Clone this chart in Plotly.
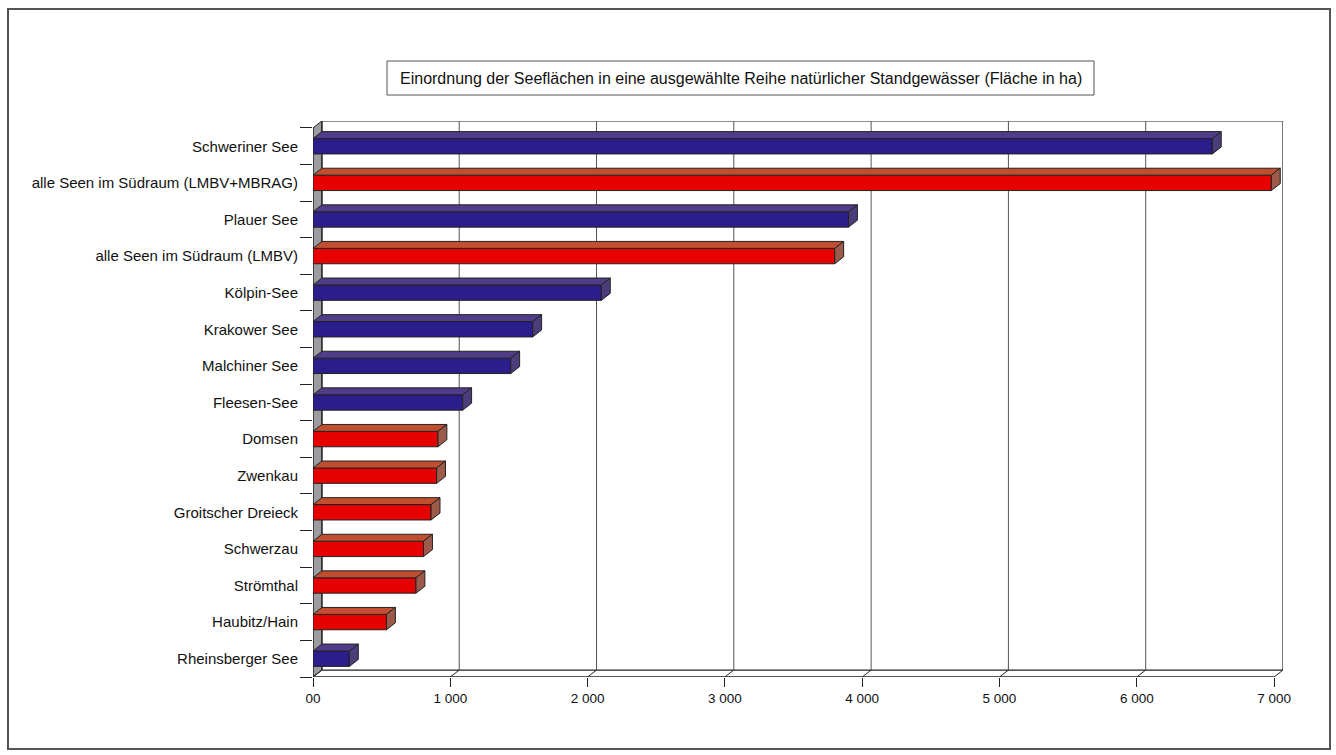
import plotly.graph_objects as go

# ---------------- data ----------------
lakes = [
    "Schweriner See",
    "alle Seen im Südraum (LMBV+MBRAG)",
    "Plauer See",
    "alle Seen im Südraum (LMBV)",
    "Kölpin-See",
    "Krakower See",
    "Malchiner See",
    "Fleesen-See",
    "Domsen",
    "Zwenkau",
    "Groitscher Dreieck",
    "Schwerzau",
    "Strömthal",
    "Haubitz/Hain",
    "Rheinsberger See",
]
area_ha = [6550, 6980, 3900, 3800, 2100, 1600, 1440, 1090, 910, 900, 860, 805, 750, 535, 265]
is_suedraum = [False, True, False, True, False, False, False, False,
               True, True, True, True, True, True, False]
x_ticks = [0, 1000, 2000, 3000, 4000, 5000, 6000, 7000]
x_tick_labels = ["00", "1 000", "2 000", "3 000", "4 000", "5 000", "6 000", "7 000"]
title_text = "Einordnung der Seeflächen in eine ausgewählte Reihe natürlicher Standgewässer (Fläche in ha)"

# ---------------- geometry / style ----------------
W, H = 1336, 755
ML, MR, MT, MB = 313, 53, 121, 78
PW, PH = W - ML - MR, H - MT - MB
XMAX = 7000
DX = 65          # depth in x data units
DY = 0.19        # depth in y (category) units
BAR_W = 0.42
n = len(lakes)
y_front_top, y_front_bot = -0.5, n - 0.5

BLUE = dict(front="#2B1D8A", top="#503C88", side="#4B3C7A")
RED = dict(front="#E60000", top="#C24E30", side="#9C5B4A")
EDGE = "#222222"
FONT = "Liberation Sans, Arial, sans-serif"

def px_x(px):
    return (px - ML) / PW

def px_y(py):
    return 1 - (py - MT) / PH

ys = list(range(n))
cols = [RED if s else BLUE for s in is_suedraum]

fig = go.Figure()
fig.add_trace(go.Bar(
    x=area_ha, y=ys, orientation="h", width=BAR_W,
    marker=dict(color=[c["front"] for c in cols], line=dict(color=EDGE, width=1)),
    hoverinfo="x+text", text=lakes, textposition="none",
))

shapes = []
# left (gray) wall
shapes.append(dict(type="path", xref="x", yref="y", layer="below",
                   path=f"M 0,{y_front_bot} L 0,{y_front_top} L {DX},{y_front_top-DY} L {DX},{y_front_bot-DY} Z",
                   fillcolor="#9C9CA0", line=dict(color=EDGE, width=1)))
# back wall frame
shapes.append(dict(type="rect", xref="x", yref="y", layer="below",
                   x0=DX, x1=XMAX + DX, y0=y_front_top - DY, y1=y_front_bot - DY,
                   line=dict(color=EDGE, width=1.2)))
# back wall gridlines
for v in x_ticks[1:-1]:
    shapes.append(dict(type="line", xref="x", yref="y", layer="below",
                       x0=v + DX, x1=v + DX, y0=y_front_top - DY, y1=y_front_bot - DY,
                       line=dict(color="#555555", width=1)))
# floor front edge and diagonals
shapes.append(dict(type="line", xref="x", yref="y", layer="below",
                   x0=0, x1=XMAX, y0=y_front_bot, y1=y_front_bot,
                   line=dict(color=EDGE, width=1.5)))
for v in x_ticks:
    shapes.append(dict(type="line", xref="x", yref="y", layer="below",
                       x0=v, x1=v + DX, y0=y_front_bot, y1=y_front_bot - DY,
                       line=dict(color=EDGE, width=1)))
# left front edge
shapes.append(dict(type="line", xref="x", yref="y", layer="below",
                   x0=0, x1=0, y0=y_front_top, y1=y_front_bot,
                   line=dict(color=EDGE, width=1)))

# bar top and side faces
h = BAR_W / 2
for i, (v, c) in enumerate(zip(area_ha, cols)):
    yt = i - h
    yb = i + h
    shapes.append(dict(type="path", xref="x", yref="y", layer="above",
                       path=f"M 0,{yt} L {v},{yt} L {v+DX},{yt-DY} L {DX},{yt-DY} Z",
                       fillcolor=c["top"], line=dict(color=EDGE, width=1)))
    shapes.append(dict(type="path", xref="x", yref="y", layer="above",
                       path=f"M {v},{yt} L {v+DX},{yt-DY} L {v+DX},{yb-DY} L {v},{yb} Z",
                       fillcolor=c["side"], line=dict(color=EDGE, width=1)))

# title box
shapes.append(dict(type="rect", xref="paper", yref="paper", layer="above",
                   x0=px_x(387), x1=px_x(1094), y0=px_y(95), y1=px_y(61),
                   line=dict(color="#555555", width=1), fillcolor="rgba(0,0,0,0)"))
# outer frame
shapes.append(dict(type="rect", xref="paper", yref="paper", layer="above",
                   x0=px_x(8), x1=px_x(1330), y0=px_y(749), y1=px_y(9),
                   line=dict(color="#555555", width=2), fillcolor="rgba(0,0,0,0)"))

fig.update_layout(
    width=W, height=H,
    margin=dict(l=ML, r=MR, t=MT, b=MB, autoexpand=False),
    paper_bgcolor="white", plot_bgcolor="white",
    showlegend=False,
    font=dict(family=FONT, color="#111111"),
    shapes=shapes,
    annotations=[dict(xref="paper", yref="paper", x=px_x(740.5), y=px_y(78),
                      text=title_text, showarrow=False,
                      font=dict(size=16, color="#111111"),
                      xanchor="center", yanchor="middle")],
    xaxis=dict(range=[0, XMAX + DX], tickmode="array", tickvals=x_ticks,
               ticktext=x_tick_labels, ticks="outside", ticklen=9,
               tickcolor=EDGE, tickwidth=1, showgrid=False, zeroline=False,
               showline=False, tickfont=dict(size=13.5), fixedrange=True),
    yaxis=dict(range=[y_front_bot, y_front_top - DY], tickmode="array",
               tickvals=ys, ticktext=lakes, ticks="", showgrid=False,
               zeroline=False, showline=False, tickfont=dict(size=15),
               ticklabelstandoff=14,
               minor=dict(tickmode="array",
                          tickvals=[i - 0.5 for i in range(n + 1)],
                          ticks="outside", ticklen=12, tickcolor=EDGE,
                          tickwidth=1, showgrid=False),
               fixedrange=True),
)

fig.write_html("out.html", config={"displayModeBar": False},
               post_script="document.body.style.margin='0px';document.body.style.overflow='hidden';")
